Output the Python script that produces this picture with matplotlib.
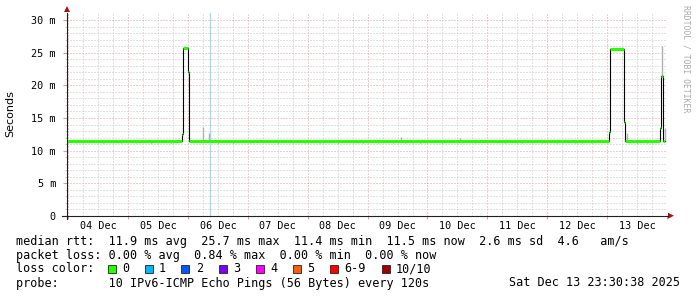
import datetime as dt
import matplotlib
matplotlib.use("Agg")
import matplotlib.pyplot as plt
import matplotlib.dates as mdates
from matplotlib.lines import Line2D
from matplotlib.patches import Polygon, Rectangle

T0 = dt.datetime(2025, 12, 4)
NOW = dt.datetime(2025, 12, 13, 23, 30, 38)

# median rtt (ms), value holds from step_hours[i] to step_hours[i+1]; hours after 04 Dec 00:00
step_hours = [-0.5, 45.6, 45.9, 48.0, 48.3, 216.7, 217.1, 222.9, 223.2, 237.3, 237.7, 238.2, 239.3]
median_ms = [11.5, 12.5, 25.7, 22.1, 11.5, 12.9, 25.6, 14.4, 11.5, 13.5, 21.5, 11.5]

# small dips of the median line
dip_hours = [3, 14, 21, 27, 33, 41, 60, 66, 73, 84, 95, 101, 108, 118, 124, 130, 135,
             141, 150, 158, 163, 175, 182, 190, 196, 203, 206, 210, 228, 232]
dip_ms = 11.2

# smoke (spread of single pings)
smoke_hours = [54.0, 56.6, 133.5, 157.0, 223.9, 238.1, 239.0]
smoke_lo = [11.5, 11.5, 11.5, 11.5, 11.5, 21.5, 11.5]
smoke_hi = [13.6, 12.7, 12.1, 12.0, 12.7, 26.0, 13.5]

marker_hour = 56.64  # light blue vertical rule

day_labels = ["04 Dec", "05 Dec", "06 Dec", "07 Dec", "08 Dec",
              "09 Dec", "10 Dec", "11 Dec", "12 Dec", "13 Dec"]
y_ticks = [0, 5, 10, 15, 20, 25, 30]
y_labels = ["0", "5 m", "10 m", "15 m", "20 m", "25 m", "30 m"]

loss_labels = ["0", "1", "2", "3", "4", "5", "6-9", "10/10"]
loss_colors = ["#26ff00", "#00b8ff", "#0059ff", "#7e00ff", "#ff00ff",
               "#ff5e00", "#ff0000", "#a10000"]

stats_line = "median rtt:  11.9 ms avg  25.7 ms max  11.4 ms min  11.5 ms now  2.6 ms sd  4.6   am/s"
loss_line = "packet loss: 0.00 % avg  0.84 % max  0.00 % min  0.00 % now"
probe_line = "probe:       10 IPv6-ICMP Echo Pings (56 Bytes) every 120s"
date_line = "Sat Dec 13 23:30:38 2025"

W, H = 697, 297
MONO = "DejaVu Sans Mono"
GRID = "#c4c4c4"
MGRID = "#dc9c9c"
ARROW = "#a01818"


def hx(h):
    return mdates.date2num(T0 + dt.timedelta(hours=h))


def px(x, y):
    return x / W, 1 - y / H


fig = plt.figure(figsize=(W / 100, H / 100), dpi=100)
fig.patch.set_facecolor("white")
left, right, top, bottom = 67, 667, 13, 215.7
ax = fig.add_axes([left / W, 1 - bottom / H, (right - left) / W, (bottom - top) / H])

ax.set_xlim(mdates.date2num(NOW - dt.timedelta(hours=240)), mdates.date2num(NOW))
ax.set_ylim(0, (bottom - top) / 6.513)

# grid
major_x = [hx(24 * d) for d in range(11)]
minor_x, minor_lab = [], []
for d, lab in enumerate(day_labels):
    for q, l in zip((6, 12, 18), ("", lab, "")):
        minor_x.append(hx(24 * d + q))
        minor_lab.append(l)
ax.set_xticks(major_x)
ax.set_xticklabels([""] * len(major_x))
ax.set_xticks(minor_x, minor=True)
ax.set_xticklabels(minor_lab, minor=True, fontfamily=MONO, fontsize=7.3)
ax.set_yticks(y_ticks)
ax.set_yticklabels(y_labels, fontfamily=MONO, fontsize=7.3)
ax.set_yticks([v for v in range(31) if v % 5], minor=True)

ax.grid(True, which="minor", color=GRID, lw=0.72, ls=(0, (1, 2)))
ax.grid(True, which="major", color=MGRID, lw=0.72, ls=(0, (1, 2)))
ax.tick_params(axis="x", which="both", length=0, pad=3.5)
ax.tick_params(axis="x", which="major", length=2, color=MGRID)
ax.tick_params(axis="y", which="major", length=3, color=MGRID, pad=5)
ax.tick_params(axis="y", which="minor", length=1.5, color=GRID)
for s in ax.spines.values():
    s.set_visible(False)
ax.set_facecolor("white")

ax.axvline(hx(marker_hour), color="#a6dcef", lw=1.0, zorder=2)

# smoke
ax.vlines([hx(h) for h in smoke_hours], smoke_lo, smoke_hi, color="#b0b0b0", lw=1.0, zorder=3)

# median: black step line, green segments on top
xs = [hx(h) for h in step_hours]
ax.step(xs, median_ms + [median_ms[-1]], where="post", color="black", lw=0.8, zorder=4)
ax.hlines(median_ms, xs[:-1], xs[1:], color=loss_colors[0], lw=2.2, zorder=5)
ax.vlines([hx(h) for h in dip_hours], dip_ms, 11.5, color=loss_colors[0], lw=1.0, zorder=5)

# axes lines and arrows
fig.add_artist(Line2D(*zip(px(61.7, bottom), px(668, bottom)), color="#202020", lw=0.8))
fig.add_artist(Line2D(*zip(px(left, bottom + 3), px(left, top)), color="#202020", lw=0.8))
fig.add_artist(Polygon([px(668, bottom - 3), px(674, bottom), px(668, bottom + 3)],
                       closed=True, color=ARROW, lw=0))
fig.add_artist(Polygon([px(left - 3, top - 1), px(left, top - 7), px(left + 3, top - 1)],
                       closed=True, color=ARROW, lw=0))

fig.text(*px(10, 113.5), "Seconds", rotation=90, ha="center", va="center", fontsize=8)
fig.text(*px(686, 5), "RRDTOOL / TOBI OETIKER", rotation=270, ha="center", va="top",
         fontsize=5.9, fontfamily=MONO, color="#aaaaaa")

# legend text
base = [244.5, 258.5, 272.5, 286.5]
fig.text(*px(16, base[0]), stats_line, fontfamily=MONO, fontsize=8.5, va="baseline")
fig.text(*px(16, base[1]), loss_line, fontfamily=MONO, fontsize=8.5, va="baseline")
fig.text(*px(16, base[2]), "loss color:", fontfamily=MONO, fontsize=8.5, va="baseline")
fig.text(*px(16, base[3]), probe_line, fontfamily=MONO, fontsize=8.5, va="baseline")
fig.text(*px(680, base[3]), date_line, fontfamily=MONO, fontsize=8.5, va="baseline", ha="right")

box_x = [107.5, 144.5, 181.5, 218.5, 255.5, 292.5, 329.5, 381.5]
for bx, lab, col in zip(box_x, loss_labels, loss_colors):
    x0, y0 = px(bx, base[2])
    fig.add_artist(Rectangle((x0, y0), 8 / W, 8 / H, facecolor=col, edgecolor="#222222",
                             lw=0.6, transform=fig.transFigure))
    fig.text(*px(bx + 14.5, base[2]), lab, fontfamily=MONO, fontsize=8.5, va="baseline")

fig.savefig("out.png", dpi=100)
